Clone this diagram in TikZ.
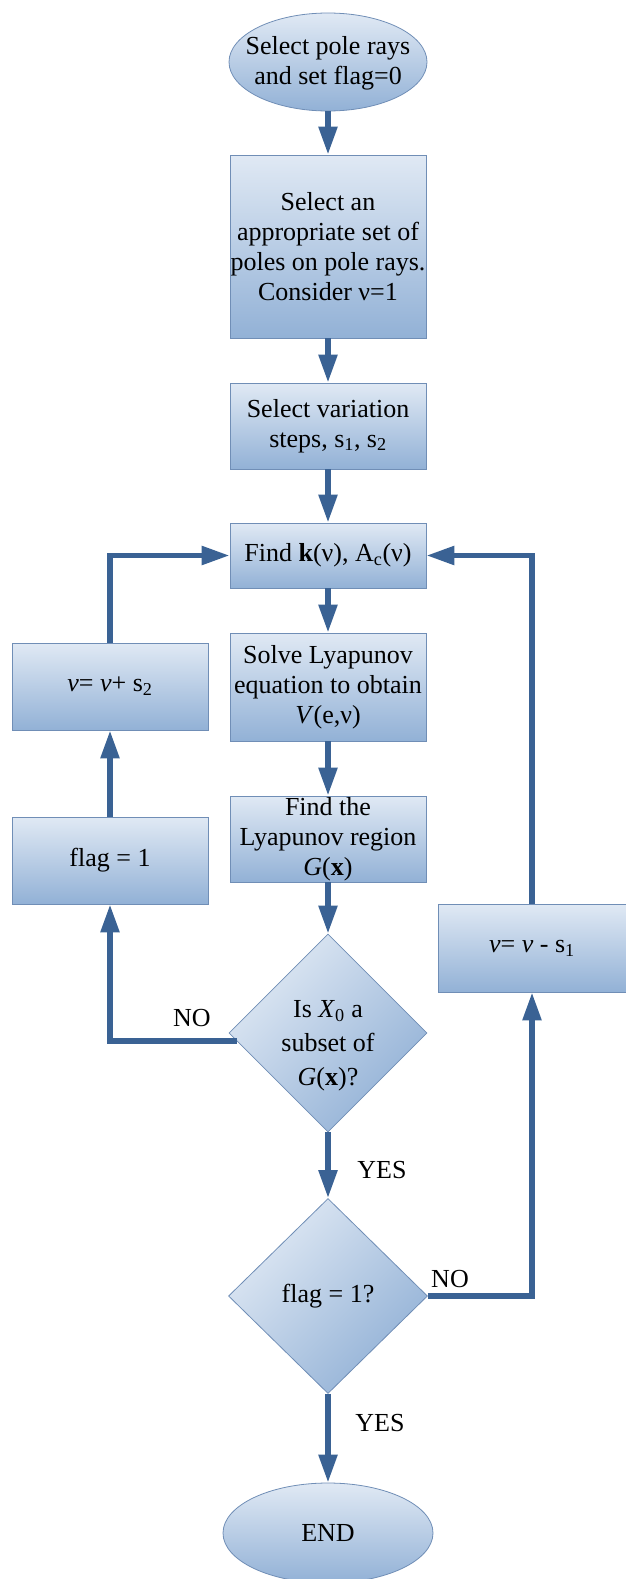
\documentclass[tikz,border=0pt]{standalone}
\usepackage{fontspec}
\setmainfont{Liberation Serif}
\usetikzlibrary{arrows.meta,shapes.geometric}
\definecolor{fillT}{RGB}{224,233,244}
\definecolor{fillB}{RGB}{146,177,214}
\definecolor{bord}{RGB}{112,142,182}
\definecolor{arr}{RGB}{58,98,148}
\begin{document}
\begin{tikzpicture}[x=1pt,y=-1pt,
  txt/.style={font=\fontsize{26}{30}\selectfont,align=center,inner sep=0pt},
  box/.style={txt,rectangle,draw=bord,line width=0.8pt,top color=fillT,bottom color=fillB,minimum width=196pt},
  ell/.style={ellipse,draw=bord,line width=0.8pt,top color=fillT,bottom color=fillB,inner sep=0pt},
  dia/.style={diamond,draw=bord,line width=0.8pt,shading=axis,top color=fillT,bottom color=fillB,shading angle=45,inner sep=0pt,minimum width=198pt,minimum height=198pt},
  flow/.style={draw=arr,line width=5.5pt,-{Triangle[length=28pt,width=18pt]}},
  lab/.style={txt}]
\useasboundingbox (0,0) rectangle (626,1579);
% nodes
\node[ell,minimum width=198pt,minimum height=98pt] (start) at (328,62) {};
\node[txt] (startt) at (328,63) {Select pole rays\\and set flag=0};
\node[box,minimum height=183pt] (b1) at (328,246.5) {Select an\\appropriate set of\\poles on pole rays.\\Consider ν=1};
\node[box,minimum height=86pt] (b2) at (328,426) {Select variation\\steps, s\textsubscript{1}, s\textsubscript{2}};
\node[box,minimum height=65pt] (fk) at (328,555.5) {Find \textbf{k}(ν), A\textsubscript{c}(ν)};
\node[box,minimum height=108pt] (solve) at (328,687) {Solve Lyapunov\\equation to obtain\\\textit{V}(e,ν)};
\node[box,minimum height=86pt] (reg) at (328,839) {Find the\\Lyapunov region\\\textit{G}(\textbf{x})};
\node[box,minimum height=87pt] (nu2) at (110,686.5) {\textit{ν}= \textit{ν}+ s\textsubscript{2}};
\node[box,minimum height=87pt] (flag) at (110,860.5) {flag = 1};
\node[box,minimum height=88pt,minimum width=188pt] (nu1) at (532,948) {\textit{ν}= \textit{ν} - s\textsubscript{1}};
\node[dia] (d1) at (328,1033) {};
\node[txt,font=\fontsize{26}{34}\selectfont] (d1t) at (328,1046) {Is \textit{X}\textsubscript{0} a\\subset of\\\textit{G}(\textbf{x})?};
\node[dia,minimum width=199pt,minimum height=195pt] (d2) at (328,1296) {};
\node[txt] (d2t) at (328,1296) {flag = 1?};
\node[ell,txt,minimum width=210pt,minimum height=100pt] (end) at (328,1533) {END};
% labels
\node[lab] (no1) at (192,1018) {NO};
\node[lab] (yes1) at (382,1170) {YES};
\node[lab] (no2) at (450,1279) {NO};
\node[lab] (yes2) at (380,1423) {YES};
% connectors
\draw[flow] (start) -- (b1);
\draw[flow] (b1) -- (b2);
\draw[flow] (b2) -- (fk);
\draw[flow] (fk) -- (solve);
\draw[flow] (solve) -- (reg);
\draw[flow] (reg) -- (d1);
\draw[flow] (d1) -- (d2);
\draw[flow] (d2) -- (end);
\draw[flow] ([xshift=8pt,yshift=-8pt]d1.west) -| (flag.south);
\draw[flow] (flag.north) -- (nu2.south);
\draw[flow] (nu2.north) |- (fk.west);
\draw[flow] (d2.east) -| (nu1.south);
\draw[flow] (nu1.north) |- (fk.east);
\end{tikzpicture}
\end{document}
